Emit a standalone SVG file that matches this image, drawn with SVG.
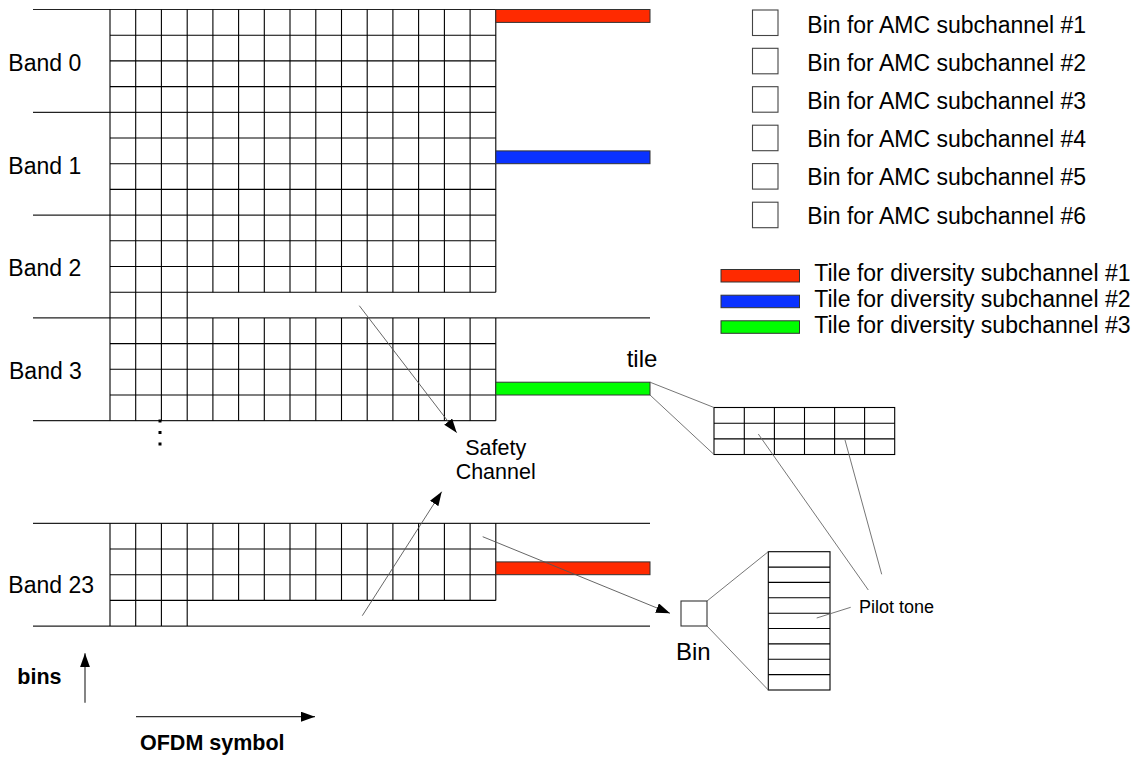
<svg xmlns="http://www.w3.org/2000/svg" width="1142" height="758" viewBox="0 0 1142 758">
<defs>
<style>
.g{fill:none;stroke:#000;stroke-width:1.1}
.b{fill:none;stroke:#222;stroke-width:1.2}
.t{fill:none;stroke:#666;stroke-width:0.9}
.a{fill:none;stroke:#555;stroke-width:0.9}
.ax{fill:none;stroke:#333;stroke-width:1.2}
.box{fill:#fff;stroke:#444;stroke-width:1.1}
.red{fill:#ff2a00;stroke:#333;stroke-width:1}
.blue{fill:#0a32ff;stroke:#333;stroke-width:1}
.green{fill:#00ff00;stroke:#333;stroke-width:1}
text{font-family:"Liberation Sans",Arial,sans-serif;fill:#000}
.lbl{font-size:23px}
.sm{font-size:21.5px}
.bold{font-size:21.5px;font-weight:bold}
</style>
<marker id="arr" markerUnits="userSpaceOnUse" markerWidth="15" markerHeight="11" refX="14" refY="5" orient="auto">
<path d="M0,0 L14,5 L0,10 z" fill="#000"/>
</marker>
</defs>
<rect width="1142" height="758" fill="#fff"/>

<g id="band-lines">
<path class="b" d="M33,9.5H495.8 M33,112.3H495.8 M33,215.1H495.8 M33,317.9H650 M33,420.7H495.8 M33,523.3H650 M33,626.1H650"/>
</g>

<g id="grid-top">
<path class="g" d="M110,35.2H495.8 M110,60.9H495.8 M110,86.6H495.8 M110,138H495.8 M110,163.7H495.8 M110,189.4H495.8 M110,240.8H495.8 M110,266.5H495.8 M110,292.2H495.8 M110,343.6H495.8 M110,369.3H495.8 M110,395H495.8"/>
<path class="g" d="M110,9.5V420.7 M135.7,9.5V420.7 M161.4,9.5V420.7 M187.2,9.5V420.7
M212.9,9.5V292.2 M238.6,9.5V292.2 M264.3,9.5V292.2 M290,9.5V292.2 M315.8,9.5V292.2 M341.5,9.5V292.2 M367.2,9.5V292.2 M392.9,9.5V292.2 M418.6,9.5V292.2 M444.4,9.5V292.2 M470.1,9.5V292.2 M495.8,9.5V292.2
M212.9,317.9V420.7 M238.6,317.9V420.7 M264.3,317.9V420.7 M290,317.9V420.7 M315.8,317.9V420.7 M341.5,317.9V420.7 M367.2,317.9V420.7 M392.9,317.9V420.7 M418.6,317.9V420.7 M444.4,317.9V420.7 M470.1,317.9V420.7 M495.8,317.9V420.7"/>
</g>

<g id="grid-band23">
<path class="g" d="M110,549H495.8 M110,574.7H495.8 M110,600.4H495.8
M110,523.3V626.1 M135.7,523.3V626.1 M161.4,523.3V626.1 M187.2,523.3V626.1
M212.9,523.3V600.4 M238.6,523.3V600.4 M264.3,523.3V600.4 M290,523.3V600.4 M315.8,523.3V600.4 M341.5,523.3V600.4 M367.2,523.3V600.4 M392.9,523.3V600.4 M418.6,523.3V600.4 M444.4,523.3V600.4 M470.1,523.3V600.4 M495.8,523.3V600.4"/>
</g>

<g id="tiles">
<rect class="red" x="495.8" y="9.5" width="154.2" height="12.9"/>
<rect class="blue" x="495.8" y="150.9" width="154.2" height="12.8"/>
<rect class="green" x="495.8" y="382.2" width="154.2" height="12.8"/>
<rect class="red" x="495.8" y="561.9" width="154.2" height="12.8"/>
</g>

<g id="band-labels">
<text class="lbl" x="8.3" y="71">Band 0</text>
<text class="lbl" x="8.3" y="174">Band 1</text>
<text class="lbl" x="8.3" y="276">Band 2</text>
<text class="lbl" x="9" y="379">Band 3</text>
<text class="lbl" x="8.3" y="593">Band 23</text>
</g>

<g id="ellipsis" fill="#000">
<rect x="158.5" y="419.5" width="3" height="3"/>
<rect x="158.5" y="431" width="3" height="3"/>
<rect x="158.5" y="442.5" width="3" height="3"/>
</g>

<g id="safety-channel">
<text class="sm" x="495.7" y="455" text-anchor="middle">Safety</text>
<text class="sm" x="495.7" y="479.3" text-anchor="middle">Channel</text>
</g>

<g id="tile-label"><text x="626.7" y="366.5" style="font-size:24px">tile</text></g>

<g id="tile-zoom">
<rect x="714" y="407.5" width="180.7" height="47" fill="#fff" stroke="#000" stroke-width="1.1"/>
<path class="g" d="M744.3,407.5V454.5 M774.4,407.5V454.5 M804.5,407.5V454.5 M834.6,407.5V454.5 M864.6,407.5V454.5 M714,423.2H894.7 M714,438.9H894.7"/>
</g>

<g id="bin">
<rect x="681" y="601" width="26" height="25" fill="#fff" stroke="#333" stroke-width="1.1"/>
<text x="676" y="660" style="font-size:24px">Bin</text>
</g>

<g id="bin-zoom">
<rect x="768.3" y="551.7" width="61.7" height="138.3" fill="#fff" stroke="#000" stroke-width="1.1"/>
<path class="g" d="M768.3,567.1H830 M768.3,582.4H830 M768.3,597.8H830 M768.3,613.2H830 M768.3,628.5H830 M768.3,643.9H830 M768.3,659.3H830 M768.3,674.6H830"/>
</g>

<g id="pilot-label"><text x="859" y="613" style="font-size:18px">Pilot tone</text></g>

<g id="axes-labels">
<text class="bold" x="17.3" y="684.3">bins</text>
<text class="bold" x="140" y="750">OFDM symbol</text>
</g>

<g id="legend">
<rect class="box" x="752.5" y="10" width="25.5" height="25.5"/>
<rect class="box" x="752.5" y="48.3" width="25.5" height="25.5"/>
<rect class="box" x="752.5" y="86.7" width="25.5" height="25.5"/>
<rect class="box" x="752.5" y="125.2" width="25.5" height="25.5"/>
<rect class="box" x="752.5" y="163.6" width="25.5" height="25.5"/>
<rect class="box" x="752.5" y="202.2" width="25.5" height="25.5"/>
<text class="lbl" x="807.3" y="32.5">Bin for AMC subchannel #1</text>
<text class="lbl" x="807.3" y="70.7">Bin for AMC subchannel #2</text>
<text class="lbl" x="807.3" y="108.9">Bin for AMC subchannel #3</text>
<text class="lbl" x="807.3" y="147.1">Bin for AMC subchannel #4</text>
<text class="lbl" x="807.3" y="185.3">Bin for AMC subchannel #5</text>
<text class="lbl" x="807.3" y="223.5">Bin for AMC subchannel #6</text>
<rect class="red" x="721" y="269.5" width="78.5" height="12.5"/>
<rect class="blue" x="721" y="295.2" width="78.5" height="12.5"/>
<rect class="green" x="721" y="320.8" width="78.5" height="12.5"/>
<text class="lbl" x="814.3" y="281">Tile for diversity subchannel #1</text>
<text class="lbl" x="814.3" y="307">Tile for diversity subchannel #2</text>
<text class="lbl" x="814.3" y="333">Tile for diversity subchannel #3</text>
</g>

<g id="connectors">
<path class="t" d="M650,382.2L714,407.5 M650,395L714,454.5"/>
<path class="t" d="M707,601L768.3,551.7 M707,626L768.3,690"/>
<path class="t" d="M758.3,434L868.3,590 M845,440L881.7,574.3 M816.7,618L850.7,607.3"/>
<path class="a" d="M359.3,305.7L456.7,432.7" marker-end="url(#arr)"/>
<path class="a" d="M362.3,615.7L441.7,491.7" marker-end="url(#arr)"/>
<path class="a" d="M482.7,536.7L670,613.3" marker-end="url(#arr)"/>
<path class="ax" d="M85,702.7V653.3" marker-end="url(#arr)"/>
<path class="ax" d="M136,716.7H315" marker-end="url(#arr)"/>
</g>
</svg>
